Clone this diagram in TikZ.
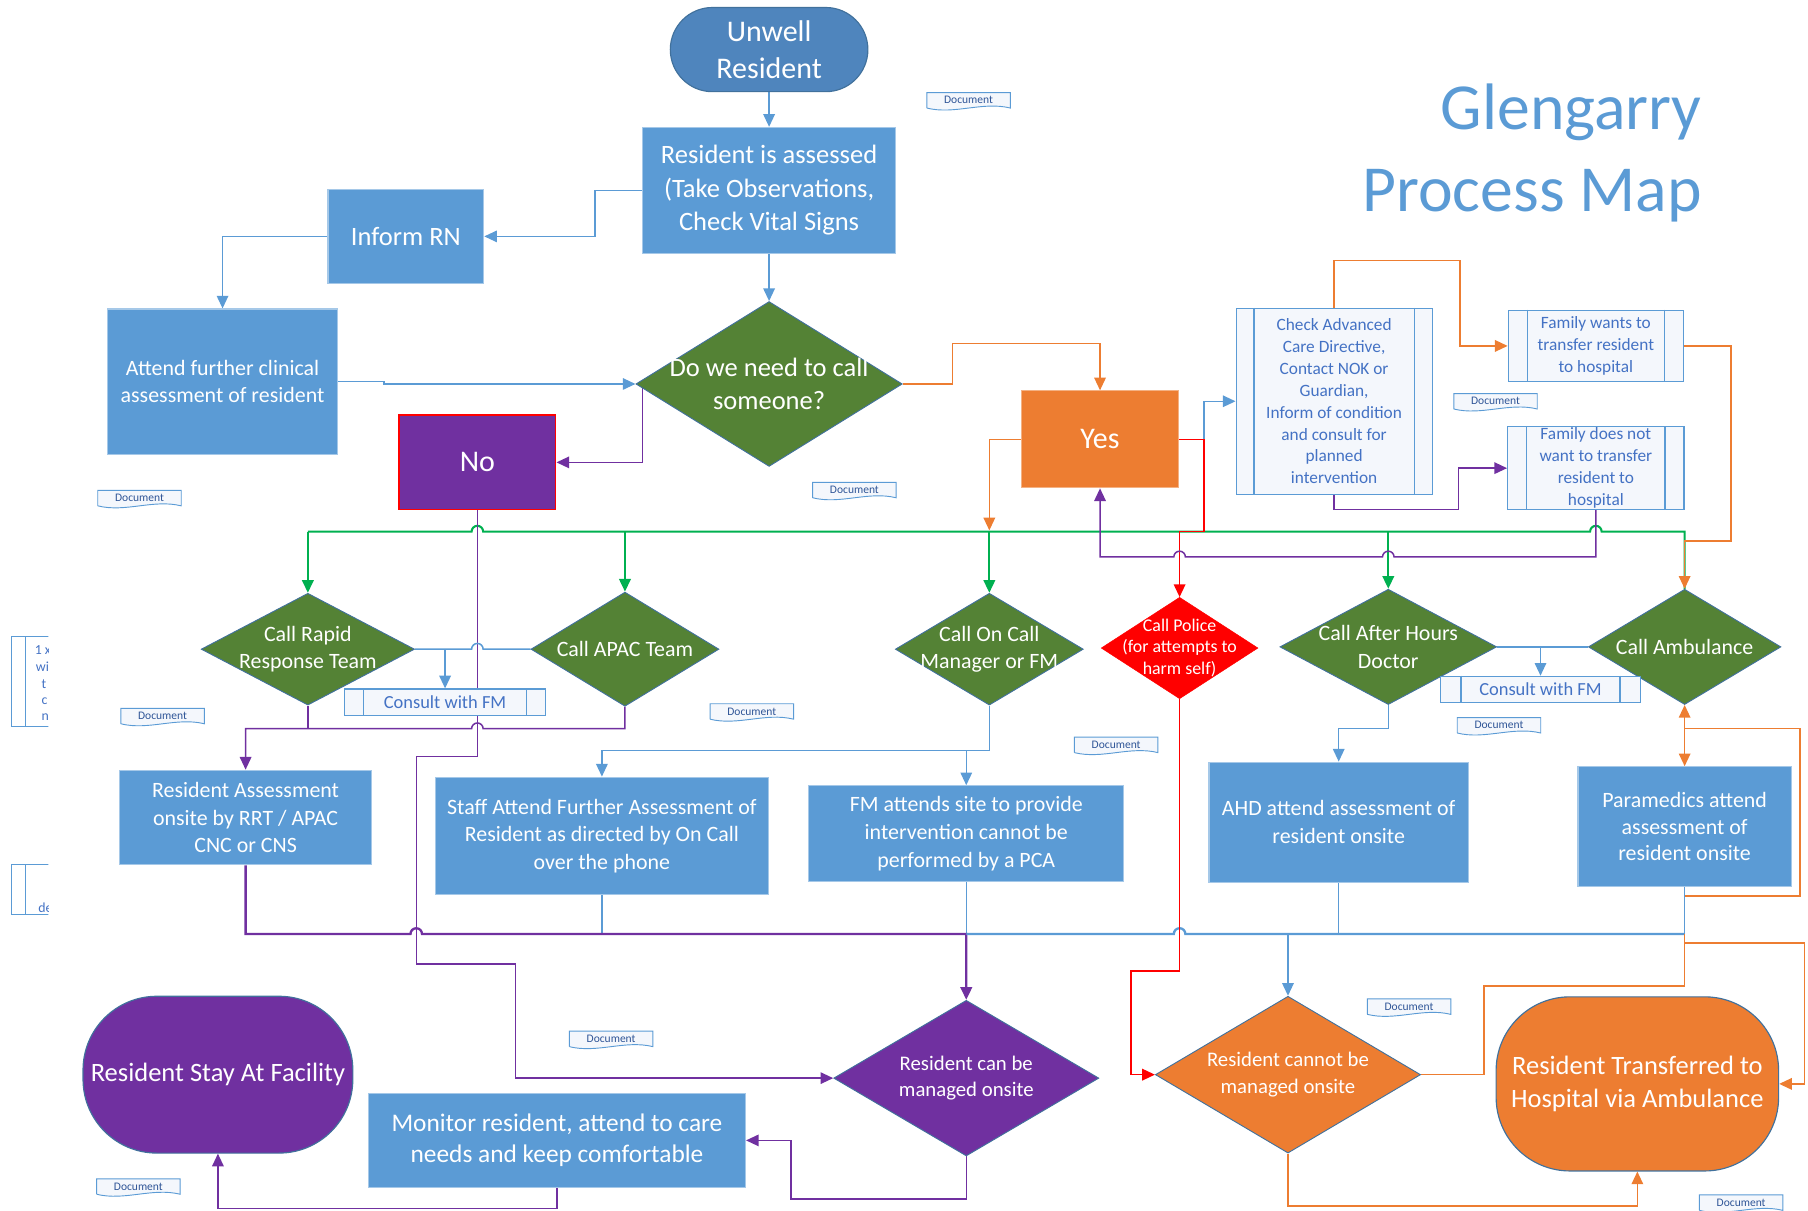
\documentclass[tikz,border=0pt]{standalone}
\usepackage{fontspec}
\setmainfont{Carlito}
\usepackage{tikz}
\usetikzlibrary{shapes.geometric, shapes.misc, arrows.meta, backgrounds}
\definecolor{procblue}{HTML}{5B9BD5}
\definecolor{termblue}{HTML}{4F85BD}
\definecolor{edgeblue}{HTML}{41719C}
\definecolor{decgreen}{HTML}{548235}
\definecolor{ppl}{HTML}{7030A0}
\definecolor{org}{HTML}{ED7D31}
\definecolor{lngreen}{HTML}{00B050}
\definecolor{subtext}{HTML}{4472C4}
\definecolor{doctext}{HTML}{2F5597}
\definecolor{subfill}{HTML}{F4F7FC}
\newcommand{\fsz}[2]{\fontsize{#1}{#2}\selectfont}
\tikzset{arr/.style={-{Triangle[length=11pt,width=10pt]}},
	arrboth/.style={{Triangle[length=11pt,width=10pt]}-{Triangle[length=11pt,width=10pt]}},
	bln/.style={draw=procblue, line width=1.3pt},
	bbus/.style={draw=procblue, line width=2pt},
	gln/.style={draw=lngreen, line width=1.8pt},
	pln/.style={draw=ppl, line width=1.3pt},
	pbus/.style={draw=ppl, line width=2pt},
	oln/.style={draw=org, line width=1.3pt},
	rln/.style={draw=red, line width=1.3pt},
	docnote/.style={rectangle, inner sep=0pt, minimum width=72, minimum height=13, font=\fsz{10}{10}, text=doctext},
	docln/.style={draw=procblue, fill=subfill, line width=0.8pt}}
\newcommand{\docnote}[2]{
	\node[docnote] (#1) at (#2) {};
	\draw[docln] (#1.south west) -- (#1.north west) -- (#1.north east) -- (#1.south east) .. controls +(-24,-6) and +(24,6) .. (#1.south west);
	\node[docnote] (#1t) at (#2) {Document};
}
\newcommand{\sidebars}[2]{
	\draw[procblue, line width=1pt] ([xshift=#2]#1.north west) -- ([xshift=#2]#1.south west) ([xshift=-#2]#1.north east) -- ([xshift=-#2]#1.south east);
}

\begin{document}
\begin{tikzpicture}[x=1pt, y=-1pt,
	proc/.style={rectangle, fill=procblue, draw=procblue!55!white, line width=1pt, text=white, align=center, inner sep=2pt},
	decide/.style={diamond, fill=decgreen, draw=edgeblue, line width=0.8pt, inner sep=0pt},
	dtext/.style={text=white, align=center, inner sep=0pt},
	subproc/.style={rectangle, fill=subfill, draw=procblue, line width=1pt, text=subtext, align=center, inner sep=0pt},
	term/.style={rectangle, rounded corners=64pt, draw=edgeblue, line width=1pt, text=white, align=center}]
	\useasboundingbox (0,0) rectangle (1568,1050);

	\node[rounded rectangle, fill=termblue, draw=edgeblue, line width=1pt, text=white, align=center, minimum width=178, minimum height=73, font=\fsz{26}{32}] (unwell) at (667,43) {Unwell\\Resident};
	\node[proc, minimum width=219, minimum height=109, font=\fsz{23}{29}] (assess) at (667,165) {Resident is assessed\\(Take Observations,\\Check Vital Signs};
	\node[proc, minimum width=135, minimum height=82, font=\fsz{23}{29}] (inform) at (352,205) {Inform RN};
	\node[proc, minimum width=200, minimum height=126, font=\fsz{19}{23}] (attend) at (193,331) {Attend further clinical\\assessment of resident};
	\node[decide, minimum width=231, minimum height=143] (need) at (667,333) {};
	\node[dtext, font=\fsz{23}{29}] (needl) at (need) {Do we need to call\\someone?};
	\node[rectangle, fill=ppl, draw=red, line width=1.2pt, text=white, minimum width=136, minimum height=82, font=\fsz{26}{32}] (no) at (414,401) {No};
	\node[rectangle, fill=org, draw=org!60!white, line width=1pt, text=white, minimum width=136, minimum height=84, font=\fsz{26}{32}] (yes) at (954,381) {Yes};

	\node[subproc, minimum width=170, minimum height=161, font=\fsz{15}{19}] (chk) at (1157,348) {Check Advanced\\Care Directive,\\Contact NOK or\\Guardian,\\Inform of condition\\and consult for\\planned\\intervention};
	\sidebars{chk}{16pt}
	\node[subproc, minimum width=152, minimum height=62, font=\fsz{15}{19}] (fwant) at (1384,300) {Family wants to\\transfer resident\\to hospital};
	\sidebars{fwant}{17pt}
	\node[subproc, minimum width=153, minimum height=72, font=\fsz{15}{19}] (fnot) at (1384,406) {Family does not\\want to transfer\\resident to\\hospital};
	\sidebars{fnot}{17pt}

	\node[decide, minimum width=185, minimum height=97] (rrt) at (267,563) {};
	\node[dtext, font=\fsz{19}{24}] (rrtl) at (rrt) {Call Rapid\\Response Team};
	\node[decide, minimum width=163, minimum height=99] (apac) at (542,563) {};
	\node[dtext, font=\fsz{19}{24}] (apacl) at (apac) {Call APAC Team};
	\node[subproc, minimum width=174, minimum height=23, font=\fsz{16}{19}] (cfma) at (386,609) {Consult with FM};
	\sidebars{cfma}{17pt}
	\node[decide, minimum width=163, minimum height=97] (oncall) at (858,563) {};
	\node[dtext, font=\fsz{19}{24}] (oncalll) at (oncall) {Call On Call\\Manager or FM};
	\node[diamond, fill=red, draw=red, inner sep=0pt, minimum width=136, minimum height=88] (police) at (1023,562) {};
	\node[dtext, font=\fsz{15.5}{19}] (policel) at (police) {Call Police\\(for attempts to\\harm self)};
	\node[decide, minimum width=188, minimum height=100] (ahd) at (1204,561) {};
	\node[dtext, font=\fsz{19}{24}] (ahdl) at (ahd) {Call After Hours\\Doctor};
	\node[decide, minimum width=167, minimum height=100] (amb) at (1461,561) {};
	\node[dtext, font=\fsz{19}{24}] (ambl) at (amb) {Call Ambulance};
	\node[subproc, minimum width=173, minimum height=23, font=\fsz{16}{19}] (cfmb) at (1336,598) {Consult with FM};
	\sidebars{cfmb}{18pt}

	\node[proc, minimum width=218, minimum height=82, font=\fsz{19}{24}] (rass) at (213,709) {Resident Assessment\\onsite by RRT / APAC\\CNC or CNS};
	\node[proc, minimum width=289, minimum height=102, font=\fsz{19}{24}] (staff) at (522,725) {Staff Attend Further Assessment of\\Resident as directed by On Call\\over the phone};
	\node[proc, minimum width=273, minimum height=83, font=\fsz{19}{24}] (fmatt) at (838,723) {FM attends site to provide\\intervention cannot be\\performed by a PCA};
	\node[proc, minimum width=225, minimum height=104, font=\fsz{19}{24}] (ahdatt) at (1161,713) {AHD attend assessment of\\resident onsite};
	\node[proc, minimum width=185, minimum height=104, font=\fsz{19}{23}] (para) at (1461,717) {Paramedics attend\\assessment of\\resident onsite};

	\node[diamond, fill=ppl, draw=edgeblue, line width=0.8pt, inner sep=0pt, minimum width=230, minimum height=135] (can) at (838,935) {};
	\node[dtext, font=\fsz{18}{23}] (canl) at (can) {Resident can be\\managed onsite};
	\node[diamond, fill=org, draw=edgeblue, line width=0.8pt, inner sep=0pt, minimum width=230, minimum height=136] (cannot) at (1117,932) {};
	\node[dtext, font=\fsz{18}{24}] (cannotl) at (cannot) {Resident cannot be\\managed onsite};
	\node[term, fill=org, minimum width=245, minimum height=151, font=\fsz{23}{28}] (trans) at (1420,940) {Resident Transferred to\\Hospital via Ambulance};
	\node[term, fill=ppl, minimum width=234, minimum height=136, font=\fsz{23}{28}] (stay) at (189,932) {Resident Stay At Facility};
	\node[proc, minimum width=327, minimum height=82, font=\fsz{22}{27}] (monitor) at (483,989) {Monitor resident, attend to care\\needs and keep comfortable};

	\node[anchor=base east, inner sep=0pt, text=procblue, font=\fsz{57}{66}] (ttla) at (1476,112) {Glengarry};
	\node[anchor=base east, inner sep=0pt, text=procblue, font=\fsz{57}{66}] (ttlb) at (1476,183) {Process Map};

	\docnote{da}{840,87}
	\docnote{db}{121,432}
	\docnote{dc}{741,425}
	\docnote{dd}{1297,348}
	\docnote{de}{141,621}
	\docnote{df}{652,617}
	\docnote{dg}{968,646}
	\docnote{dh}{1300,629}
	\docnote{di}{530,901}
	\docnote{dj}{1222,873}
	\docnote{dk}{120,1029}
	\docnote{dl}{1510,1043}

	\begin{scope}
		\clip (0,540) rectangle (42,800);
		\draw[procblue, line width=1pt] (44,552) -- (10,552) -- (10,630) -- (44,630) (22,552) -- (22,630);
		\draw[procblue, line width=1pt] (44,750) -- (10,750) -- (10,793) -- (44,793) (22,750) -- (22,793);
		\node[anchor=west, inner sep=0pt, text=subtext, font=\fsz{12}{12}] (ea) at (30,564) {1 x};
		\node[anchor=west, inner sep=0pt, text=subtext, font=\fsz{12}{12}] (eb) at (31,578) {wi};
		\node[anchor=west, inner sep=0pt, text=subtext, font=\fsz{12}{12}] (ec) at (36,593) {t};
		\node[anchor=west, inner sep=0pt, text=subtext, font=\fsz{12}{12}] (ed) at (36,608) {c};
		\node[anchor=west, inner sep=0pt, text=subtext, font=\fsz{12}{12}] (ee) at (36,622) {n};
		\node[anchor=west, inner sep=0pt, text=subtext, font=\fsz{12}{12}] (ef) at (33,787) {de};
	\end{scope}

	\begin{scope}[on background layer]
		\draw[bln, arr] (unwell.south) -- (assess.north);
		\draw[bln, arr] (assess.west) -- (516,165) |- (inform.east);
		\draw[bln, arr] (inform.west) -| (attend.north);
		\draw[bln, arr] (attend.east) -- (333,331) |- (need.west);
		\draw[bln, arr] (assess.south) -- (need.north);
		\draw[pln, arr] ([xshift=6pt]need.west) |- (no.east);
		\draw[oln, arr] (need.east) -- (826,333) |- (954,298) -- (yes.north);

		\draw[gln] (267,461) -- (409,461) arc (180:0:5pt) -- (1379,461) arc (180:0:5pt) -- (1461,461) -- (amb.north);
		\draw[gln, arr] (267,461) -- (rrt.north);
		\draw[gln, arr] (542,461) -- (apac.north);
		\draw[gln, arr] (858,461) -- (oncall.north);
		\draw[gln, arr] (1204,461) -- (ahd.north);
		\draw[oln, arr] (yes.west) -| (858,460);

		\draw[bln, arr] (yes.east) -- (1044,381) |- (chk.west);
		\draw[rln, arr] (yes.east) -- (1044,381) -- (1044,461) -- (1023,461) -- (police.north);
		\draw[oln, arr] (chk.north) |- (1266,226) |- (fwant.west);
		\draw[pln, arr] (chk.south) |- (1265,442) |- (fnot.west);
		\draw[oln, arr] (fwant.east) -| (1501,469) -| (amb.north);
		\draw[pln, arr] (fnot.south) |- (1209,483) arc (0:180:5pt) -- (1028,483) arc (0:180:5pt) -- (954,483) -- (yes.south);

		\draw[pln, arr] (no.south) -- (414,656) -- (361,656) -- (361,836) -- (447,836) |- (can.west);
		\draw[bln] (rrt.east) -- (409,563) arc (180:0:5pt) -- (apac.west);
		\draw[bln, arr] (386,563) -- (cfma.north);
		\draw[pln] (rrt.south) -- (267,632);
		\draw[pln, arr] (apac.south) -- (542,632) -- (419,632) arc (0:180:5pt) -- (213,632) -- (rass.north);

		\draw[bln, arr] (oncall.south) -- (858,651) -| (staff.north);
		\draw[bln, arr] (838,651) -- (fmatt.north);
		\draw[bln] (ahd.east) -- (amb.west);
		\draw[bln, arr] (1336,561) -- (cfmb.north);
		\draw[bln, arr] (ahd.south) -- (1204,632) -| (ahdatt.north);
		\draw[oln, arrboth] (amb.south) -- (para.north);
		\draw[oln] (1461,632) -- (1561,632) -- (1561,777) -- (1461,777);

		\draw[bln] (staff.south) -- (522,810);
		\draw[bln] (fmatt.south) -- (838,810);
		\draw[bln] (ahdatt.south) -- (1161,810);
		\draw[bln] (para.south) -- (1461,810);
		\draw[pbus, arr] (rass.south) |- (356,810) arc (180:0:5pt) -- (838,810) -- (can.north);
		\draw[bbus] (838,810) -- (1018,810) arc (180:0:5pt) -- (1461,810);
		\draw[bln, arr] (1117,810) -- (cannot.north);
		\draw[rln, arr] (police.south) -- (1023,842) -- (981,842) |- (cannot.west);

		\draw[oln] (1461,810) -- (1461,855);
		\draw[oln, arr] (cannot.east) -- (1287,932) |- (1461,855) |- (1565,818) |- (trans.east);
		\draw[oln, arr] (cannot.south) |- (1420,1046) -- (trans.south);
		\draw[pln, arr] (can.south) |- (686,1040) |- (monitor.east);
		\draw[pln, arr] (monitor.south) |- (189,1048) -- (stay.south);
	\end{scope}
\end{tikzpicture}
\end{document}
